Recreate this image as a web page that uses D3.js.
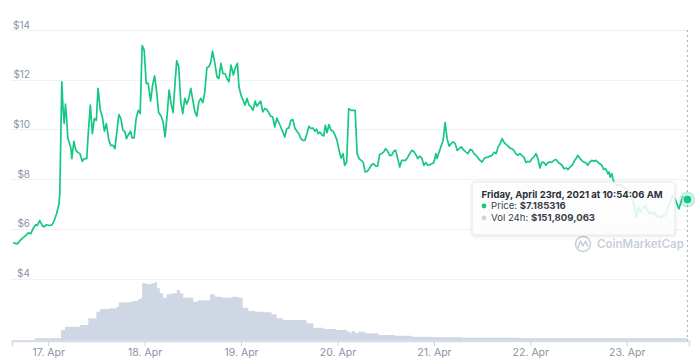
<!DOCTYPE html>
<html>
<head>
<meta charset="utf-8">
<script src="https://cdn.jsdelivr.net/npm/d3@7"></script>
<style>
  body { margin: 0; background: #fff; }
  svg { display: block; font-family: Inter, "Noto Sans", sans-serif; }
</style>
</head>
<body>
<div id="chart"></div>
<script>
// hours since 17 Apr 2021 00:00, price in USD
const pricePoints = [
  [-8.7,5.44],[-7.7,5.40],[-6.6,5.60],[-5.6,5.73],[-5.0,5.84],[-4.3,5.81],[-3.7,6.03],[-3.1,6.17],[-2.7,6.14],[-2.1,6.34],
  [-1.5,6.14],[-1.0,6.08],[-0.4,6.17],[0.4,6.14],[1.0,6.17],[1.5,6.34],[2.1,6.61],[2.7,7.01],[2.9,7.42],[3.2,10.17],
  [3.4,11.92],[3.7,10.84],[4.0,10.24],[4.3,11.02],[4.6,10.44],[4.9,9.63],[5.2,9.50],[5.6,9.30],[5.9,8.83],[6.4,9.52],
  [6.9,9.16],[7.3,9.09],[7.9,9.03],[8.5,8.72],[9.0,8.83],[9.6,8.83],[10.0,9.90],[10.5,10.98],[11.0,9.83],[11.5,10.44],
  [12.0,10.37],[12.4,11.65],[13.0,10.77],[13.5,10.50],[14.0,9.93],[14.5,10.24],[15.1,9.56],[15.6,9.36],[16.2,9.36],[16.6,9.23],
  [17.6,10.60],[18.1,10.44],[18.6,9.97],[19.1,9.90],[19.5,9.63],[19.9,9.77],[20.5,9.93],[20.9,9.66],[21.4,9.66],[21.9,10.44],
  [22.4,10.77],[22.9,10.64],[23.4,13.37],[23.9,13.19],[24.4,11.85],[24.9,11.85],[25.5,11.14],[26.0,11.78],[26.5,12.16],[27.0,11.51],
  [27.5,10.68],[28.1,10.54],[28.6,10.30],[29.1,9.70],[29.6,10.57],[30.1,11.58],[30.6,11.04],[31.1,10.68],[31.6,11.92],[32.0,12.76],
  [32.5,12.52],[33.0,11.11],[33.5,10.64],[34.0,11.25],[34.5,11.02],[35.0,11.25],[35.5,11.65],[36.0,11.18],[36.5,10.73],[37.0,10.54],
  [37.5,11.11],[38.0,11.25],[38.5,11.08],[39.0,11.51],[39.5,12.48],[40.0,12.52],[40.5,12.72],[40.9,13.15],[41.5,12.66],[42.0,12.12],
  [42.5,12.05],[43.0,12.66],[43.5,12.25],[44.0,12.25],[44.5,12.05],[45.0,11.92],[45.5,12.59],[46.1,12.19],[46.5,12.45],[47.1,12.66],
  [47.5,11.71],[48.0,11.38],[48.5,11.18],[49.0,10.98],[49.5,11.25],[50.0,10.98],[50.5,10.91],[51.0,10.77],[51.5,11.14],[51.9,10.94],
  [52.4,11.04],[52.9,11.14],[53.4,10.71],[53.9,10.84],[54.4,10.80],[54.9,10.68],[55.4,10.53],[55.9,10.50],[56.4,10.10],[56.9,10.46],
  [57.4,10.28],[57.9,10.10],[58.4,9.90],[58.9,9.70],[59.4,10.04],[59.9,10.06],[60.4,10.37],[60.9,10.40],[61.4,10.06],[61.9,9.93],
  [62.4,9.83],[62.9,9.63],[63.4,9.56],[63.9,9.56],[64.4,9.83],[64.9,10.13],[65.4,10.04],[65.9,10.06],[66.4,9.93],[66.8,10.01],
  [67.2,9.83],[67.6,9.90],[68.1,9.80],[68.6,9.74],[69.0,10.17],[69.4,9.87],[69.9,10.20],[70.4,9.97],[70.9,9.93],[71.4,9.77],
  [71.9,9.56],[72.4,9.16],[72.9,8.85],[73.4,9.03],[73.8,8.56],[74.3,8.69],[74.8,10.84],[75.4,10.77],[75.9,10.77],[76.4,10.77],
  [76.9,9.03],[77.4,8.83],[77.9,8.76],[78.4,8.69],[78.9,8.29],[79.4,8.31],[79.9,8.42],[80.5,8.58],[81.0,8.62],[81.5,8.53],
  [82.0,8.53],[82.5,8.99],[83.0,9.03],[83.5,9.09],[84.0,9.23],[84.5,9.12],[85.0,8.96],[85.5,8.96],[86.0,9.12],[86.5,9.16],
  [87.0,8.83],[87.5,8.49],[88.0,8.76],[88.5,8.76],[89.0,8.76],[89.5,8.89],[90.0,9.03],[90.5,9.16],[91.0,9.12],[91.5,8.99],
  [92.0,8.83],[92.5,8.93],[93.0,8.85],[93.5,8.56],[94.0,8.67],[94.5,8.56],[95.0,8.58],[95.5,8.62],[96.0,8.67],[96.5,9.03],
  [96.8,8.83],[97.3,9.09],[97.8,9.33],[98.3,9.56],[98.8,10.28],[99.3,9.63],[99.8,9.33],[100.3,9.43],[100.8,9.50],[101.3,9.43],
  [101.8,9.16],[102.3,9.23],[102.8,9.30],[103.5,9.16],[104.0,9.09],[104.5,9.03],[105.0,9.20],[105.5,9.16],[106.0,9.03],[106.5,8.96],
  [107.0,8.85],[107.5,8.76],[108.0,8.69],[108.5,8.83],[109.0,8.88],[109.5,8.88],[110.0,8.93],[110.5,8.96],[111.0,9.09],[111.5,9.03],
  [112.0,9.30],[112.5,9.43],[113.0,9.63],[113.5,9.47],[114.0,9.39],[114.5,9.33],[114.9,9.25],[115.4,9.23],[115.9,9.16],[116.4,9.03],
  [116.9,8.96],[117.4,9.03],[117.9,8.96],[118.4,8.89],[118.9,8.67],[119.4,8.72],[119.9,8.69],[120.4,8.83],[120.9,8.89],[121.4,9.03],
  [121.9,8.83],[122.4,8.45],[122.9,8.69],[123.4,8.67],[123.9,8.56],[124.4,8.67],[124.9,8.69],[125.4,8.69],[125.9,8.76],[126.4,8.79],
  [126.9,8.69],[127.4,8.62],[127.9,8.56],[128.4,8.42],[128.9,8.45],[129.4,8.39],[129.9,8.49],[130.4,8.56],[130.9,8.72],[131.4,8.83],
  [131.8,8.96],[132.3,8.85],[132.8,8.76],[133.3,8.69],[133.8,8.67],[134.3,8.56],[134.8,8.69],[135.3,8.76],[135.8,8.72],[136.3,8.76],
  [136.8,8.69],[137.3,8.62],[137.8,8.56],[138.3,8.39],[138.8,8.42],[139.3,8.22],[139.6,8.29],[139.9,8.08],[140.3,8.22],[140.6,7.98],
  [141.1,7.82],[141.6,7.75],[142.3,7.78],[143.2,7.68],[144.0,7.59],[144.8,7.48],[145.4,7.21],[145.9,6.94],[146.4,6.47],[146.9,6.88],
  [147.4,6.67],[147.9,6.81],[148.6,6.94],[149.1,6.74],[149.6,6.61],[150.1,6.67],[150.6,6.57],[151.0,6.67],[151.5,6.47],[152.0,6.54],
  [152.5,6.43],[153.0,6.54],[153.5,6.51],[154.0,6.74],[154.5,6.94],[155.0,7.14],[155.5,7.35],[156.0,7.21],[156.5,7.01],[157.0,6.81],
  [157.5,7.08],[158.0,7.28],[158.5,7.24],[159.1,7.185316]
];

// hours since 17 Apr 2021 00:00, 24h volume in millions USD
const volumePoints = [
  [-9.0,40],[-3.6,40],[-3.3,140],[2.9,140],[3.2,627],[4.2,820],[5.9,820],[7.9,920],[10.0,1313],[12.0,1700],
  [12.9,1858],[15.4,1900],[17.1,1992],[17.6,2250],[19.1,2250],[20.8,2326],[22.4,2444],[23.1,2520],[23.4,3364],[24.5,3305],
  [25.7,3364],[26.6,3422],[27.1,3071],[27.8,2778],[28.6,2520],[29.5,2719],[30.7,2778],[32.0,2971],[32.8,2778],[33.6,2520],
  [35.3,2520],[36.1,2285],[37.3,2367],[39.0,2367],[40.3,2719],[41.5,2578],[43.2,2520],[45.7,2578],[47.3,2520],[48.4,1934],
  [49.8,1740],[51.5,1700],[53.5,1664],[55.6,1547],[56.9,1313],[58.5,1213],[62.7,1213],[64.3,1020],[66.0,762],[68.5,686],
  [71.8,627],[74.4,527],[75.1,434],[75.5,568],[76.4,434],[77.2,527],[78.9,434],[82.2,334],[86.3,293],[90.5,234],
  [95.5,200],[103.0,176],[117.4,140],[137.3,150],[159.3,152]
];

const priceTicks = [4, 6, 8, 10, 12, 14];
const tooltipTitle = "Friday, April 23rd, 2021 at 10:54:06 AM";
const tooltipPrice = "$7.185316";
const tooltipVolume = "$151,809,063";

const width = 700, height = 363;
const base = Date.UTC(2021, 3, 17);
const toDate = h => new Date(base + h * 3600e3);

const svg = d3.select("#chart").append("svg")
  .attr("width", width).attr("height", height);

let x = d3.scaleUtc()
  .domain([toDate(-9), toDate(159.5)])
  .range([12, 689]);

let y = d3.scaleLinear().domain([4, 14]).range([278.7, 30]);
let yVol = d3.scaleLinear().domain([0, 3500]).range([340.7, 281]);

// grid lines
svg.append("g").selectAll("line")
  .data(priceTicks)
  .join("line")
  .attr("x1", 11).attr("x2", 689)
  .attr("y1", d => Math.round(y(d)) + 0.5).attr("y2", d => Math.round(y(d)) + 0.5)
  .attr("stroke", "#eef1f5");

// y labels
svg.append("g").selectAll("text")
  .data(priceTicks)
  .join("text")
  .attr("x", 30).attr("y", d => y(d) - 1.5)
  .attr("text-anchor", "end")
  .attr("font-size", 10)
  .attr("fill", "#8a93a6")
  .text(d => "$" + d);

// volume area
let area = d3.area()
  .curve(d3.curveStepAfter)
  .x(d => x(toDate(d[0])))
  .y0(yVol(0))
  .y1(d => yVol(d[1]));

svg.append("path")
  .datum(volumePoints)
  .attr("d", area)
  .attr("fill", "#cfd6e4");

// x axis
let xAxis = d3.axisBottom(x)
  .ticks(d3.utcDay.every(1))
  .tickSize(5)
  .tickPadding(3)
  .tickFormat(d3.utcFormat("%-d. %b"));

let gx = svg.append("g")
  .attr("transform", "translate(0," + 341 + ")")
  .call(xAxis);
gx.select(".domain").attr("stroke", "#d5dbe6").attr("stroke-width", 1.5);
gx.selectAll(".tick line").attr("stroke", "#ccd3df");
gx.selectAll(".tick text")
  .attr("fill", "#8a93a6")
  .attr("font-size", 10.5)
  .attr("font-family", "Inter, 'Noto Sans', sans-serif");

// price line
let line = d3.line()
  .x(d => x(toDate(d[0])))
  .y(d => y(d[1]));

svg.append("path")
  .datum(pricePoints)
  .attr("d", line)
  .attr("fill", "none")
  .attr("stroke", "#16c784")
  .attr("stroke-width", 1.7)
  .attr("stroke-linejoin", "round");

// crosshair
let last = pricePoints[pricePoints.length - 1];
let lx = x(toDate(last[0]));
svg.append("line")
  .attr("x1", lx).attr("x2", lx)
  .attr("y1", 30).attr("y2", 341)
  .attr("stroke", "#a3aec2")
  .attr("stroke-dasharray", "2,3");

// watermark
let wm = svg.append("g").attr("fill", "none").attr("stroke", "#c9cfdb");
wm.append("circle").attr("cx", 583).attr("cy", 244).attr("r", 7.5).attr("stroke-width", 1.6);
wm.append("path")
  .attr("d", "M578,248 L580.5,241 L583,246 L585.5,241 L588,247")
  .attr("stroke-width", 1.6).attr("stroke-linejoin", "round");
svg.append("text")
  .attr("x", 597).attr("y", 248)
  .attr("font-size", 11.5)
  .attr("font-weight", 600)
  .attr("fill", "#c9cfdb")
  .text("CoinMarketCap");

// tooltip
let defs = svg.append("defs");
let f = defs.append("filter").attr("id", "shadow").attr("x", "-10%").attr("y", "-20%").attr("width", "120%").attr("height", "150%");
f.append("feDropShadow").attr("dx", 0).attr("dy", 1).attr("stdDeviation", 1.5)
  .attr("flood-color", "#000").attr("flood-opacity", 0.12);

let tip = svg.append("g").attr("transform", "translate(472,182)");
tip.append("rect")
  .attr("width", 203).attr("height", 53).attr("rx", 2)
  .attr("fill", "#fff").attr("fill-opacity", 0.85)
  .attr("stroke", "#e3e7ee")
  .attr("filter", "url(#shadow)");
tip.append("text")
  .attr("x", 9.5).attr("y", 15.5)
  .attr("font-size", 9.5).attr("font-weight", 700).attr("fill", "#2b2f3a")
  .text(tooltipTitle);
tip.append("circle").attr("cx", 12).attr("cy", 24).attr("r", 2.4).attr("fill", "#16c784");
let t1 = tip.append("text").attr("x", 19).attr("y", 27.3).attr("font-size", 9.6).attr("fill", "#3a3f4b");
t1.append("tspan").text("Price: ");
t1.append("tspan").attr("font-weight", 700).text(tooltipPrice);
tip.append("circle").attr("cx", 12).attr("cy", 36).attr("r", 2.4).attr("fill", "#cfd6e4");
let t2 = tip.append("text").attr("x", 19).attr("y", 39.3).attr("font-size", 9.6).attr("fill", "#3a3f4b");
t2.append("tspan").text("Vol 24h: ");
t2.append("tspan").attr("font-weight", 700).text(tooltipVolume);

// hover marker
svg.append("circle").attr("cx", lx).attr("cy", y(last[1])).attr("r", 8)
  .attr("fill", "#16c784").attr("fill-opacity", 0.25);
svg.append("circle").attr("cx", lx).attr("cy", y(last[1])).attr("r", 4.5)
  .attr("fill", "#16c784").attr("stroke", "#fff").attr("stroke-width", 1);
</script>
</body>
</html>
